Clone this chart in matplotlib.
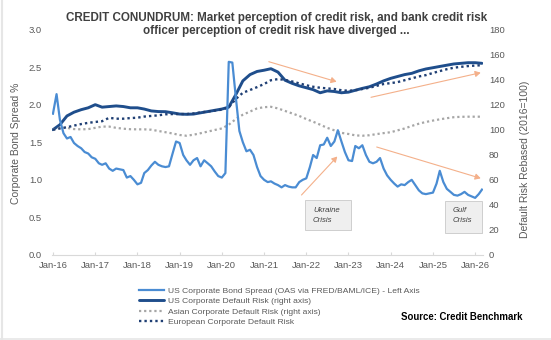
import matplotlib
matplotlib.use("Agg")
import matplotlib.pyplot as plt
from matplotlib.patches import Rectangle, FancyArrowPatch
from matplotlib.lines import Line2D
import pandas as pd

plt.rcParams['font.family'] = ['Liberation Sans', 'DejaVu Sans']

# ---------------- data ----------------
# US Corporate Bond Spread (OAS), monthly Jan-2016 .. Mar-2026, left axis (%)
spread = [
    1.88, 2.14, 1.80, 1.62, 1.55, 1.57, 1.49, 1.45, 1.42, 1.37, 1.35, 1.30,   # 2016
    1.28, 1.22, 1.20, 1.22, 1.15, 1.12, 1.15, 1.14, 1.13, 1.03, 1.05, 1.00,   # 2017
    0.94, 0.96, 1.09, 1.13, 1.19, 1.24, 1.20, 1.18, 1.17, 1.18, 1.35, 1.51,   # 2018
    1.49, 1.33, 1.26, 1.20, 1.26, 1.29, 1.18, 1.26, 1.22, 1.18, 1.11, 1.05,   # 2019
    1.03, 1.09, 2.57, 2.56, 2.10, 1.65, 1.50, 1.38, 1.40, 1.33, 1.17, 1.05,   # 2020
    1.00, 0.97, 0.98, 0.95, 0.93, 0.90, 0.93, 0.91, 0.90, 0.90, 0.97, 1.00,   # 2021
    1.02, 1.17, 1.33, 1.29, 1.46, 1.47, 1.56, 1.45, 1.51, 1.66, 1.51, 1.37,   # 2022
    1.26, 1.25, 1.45, 1.42, 1.46, 1.33, 1.24, 1.22, 1.24, 1.29, 1.15, 1.06,   # 2023
    1.00, 0.95, 0.91, 0.94, 0.93, 0.97, 1.00, 0.93, 0.86, 0.82, 0.81, 0.82,   # 2024
    0.83, 0.95, 1.12, 0.97, 0.88, 0.84, 0.80, 0.79, 0.81, 0.84, 0.80, 0.78,   # 2025
    0.76, 0.81, 0.87,                                                         # 2026
]
spread_dates = pd.date_range("2016-01-01", periods=len(spread), freq="MS")

# Default risk series (rebased 2016=100), bi-monthly Jan-2016 .. Jan-2026, plus Mar-2026
risk_dates = list(pd.date_range("2016-01-01", "2026-01-01", freq="2MS")) + [pd.Timestamp("2026-03-01")]
us_risk = [
    100.0, 104.0, 111.0, 114.0, 116.0, 117.5,
    120.0, 118.0, 118.5, 119.0, 118.5, 117.5,
    117.5, 116.5, 115.0, 114.5, 114.4, 113.5,
    112.5, 112.3, 112.5, 113.5, 114.5, 115.5,
    116.5, 118.0, 128.0, 139.0, 144.0, 146.5,
    147.5, 148.7, 146.0, 139.5, 137.0, 135.0,
    133.5, 132.0, 129.5, 131.0, 130.5, 129.5,
    130.0, 131.5, 133.0, 134.3, 136.5, 139.0,
    141.0, 142.5, 144.0, 145.0, 147.0, 148.5,
    149.5, 150.5, 151.5, 152.5, 153.0, 153.5,
    153.5, 153.0,
]
asia_risk = [
    100.0, 101.5, 101.5, 100.5, 100.3, 100.5,
    101.5, 102.5, 102.5, 101.5, 100.8, 100.4,
    100.3, 100.3, 100.0, 99.0, 98.0, 97.0,
    95.8, 95.2, 96.0, 97.2, 98.5, 99.8,
    101.0, 104.0, 108.5, 112.0, 114.5, 117.0,
    118.0, 118.3, 117.0, 115.0, 113.0, 111.0,
    108.5, 106.4, 104.0, 101.5, 99.5, 97.5,
    96.6, 95.5, 95.2, 95.6, 96.5, 97.3,
    98.0, 99.5, 101.0, 103.0, 104.8, 106.2,
    107.3, 108.3, 109.2, 110.0, 110.3, 110.4,
    110.4, 110.4,
]
euro_risk = [
    100.0, 101.0, 102.0, 103.3, 104.5, 105.5,
    106.2, 106.8, 109.5, 108.8, 108.8, 109.3,
    109.6, 110.5, 111.0, 111.5, 112.3, 112.5,
    112.5, 112.5, 113.0, 113.8, 114.5, 115.3,
    116.0, 118.0, 124.5, 129.5, 131.7, 134.0,
    136.5, 139.5, 140.4, 139.8, 138.5, 137.0,
    135.5, 134.3, 133.5, 133.0, 132.5, 131.5,
    131.1, 131.5, 132.5, 133.5, 135.0, 136.5,
    137.2, 138.0, 139.5, 141.0, 142.5, 143.6,
    145.3, 146.8, 148.3, 149.5, 150.2, 150.8,
    151.2, 151.5,
]

xtick_dates = pd.date_range("2016-01-01", "2026-01-01", freq="YS")
xtick_labels = [d.strftime("Jan-%y") for d in xtick_dates]
left_ticks = [0.0, 0.5, 1.0, 1.5, 2.0, 2.5, 3.0]
right_ticks = [0, 20, 40, 60, 80, 100, 120, 140, 160, 180]

labels = [
    "US Corporate Bond Spread (OAS via FRED/BAML/ICE) - Left Axis",
    "US Corporate Default Risk (right axis)",
    "Asian Corporate Default Risk (right axis)",
    "European Corporate Default Risk",
]

# ---------------- styling ----------------
W, H = 551, 340
C_SPREAD = "#4A8CD3"
C_US = "#1F4E8C"
C_EU = "#1F3F74"
C_ASIA = "#A6A6A6"
C_ARROW = "#F4B08A"
C_TEXT = "#595959"

def fx(px):
    return px / W

def fy(py):
    return 1 - py / H

fig = plt.figure(figsize=(W / 100, H / 100), dpi=100)
fig.patch.set_facecolor("white")

ax = fig.add_axes([fx(51.7), fy(255), fx(483) - fx(51.7), fy(29.5) - fy(255)])
ax2 = ax.twinx()

# right-axis series
l_us, = ax2.plot(risk_dates, us_risk, color=C_US, lw=2.1, solid_capstyle="round")
l_asia, = ax2.plot(risk_dates, asia_risk, color=C_ASIA, lw=1.6, linestyle=(0, (1, 1.3)))
l_eu, = ax2.plot(risk_dates, euro_risk, color=C_EU, lw=1.7, linestyle=(0, (1, 1.3)))
# left-axis series
l_sp, = ax.plot(spread_dates, spread, color=C_SPREAD, lw=1.6)

ax.set_zorder(ax2.get_zorder() + 1)
ax.patch.set_visible(False)

ax.set_ylim(0, 3.0)
ax2.set_ylim(0, 180)
ax.set_xlim(pd.Timestamp("2015-12-21"), pd.Timestamp("2026-03-10"))

ax.set_yticks(left_ticks)
ax.set_yticklabels([f"{v:.1f}" for v in left_ticks])
ax2.set_yticks(right_ticks)
ax2.set_yticklabels([str(v) for v in right_ticks])
ax.set_xticks(xtick_dates)
ax.set_xticklabels(xtick_labels)

for a in (ax, ax2):
    for s in a.spines.values():
        s.set_visible(False)
ax.spines["bottom"].set_visible(True)
ax.spines["bottom"].set_color("#D9D9D9")
ax.spines["bottom"].set_linewidth(0.8)

ax.tick_params(axis="y", length=0, pad=7, labelsize=6.8, labelcolor=C_TEXT)
ax2.tick_params(axis="y", length=0, pad=4.3, labelsize=6.8, labelcolor=C_TEXT)
ax.tick_params(axis="x", direction="in", length=2.5, color="#D9D9D9", pad=4,
               labelsize=6.8, labelcolor=C_TEXT)

# axis titles
fig.text(fx(15.8), fy(143), "Corporate Bond Spread %", rotation=90, ha="center", va="center",
         fontsize=7.5, color=C_TEXT)
fig.text(fx(525), fy(159), "Default Risk Rebased (2016=100)", rotation=90, ha="center",
         va="center", fontsize=7.5, color=C_TEXT)

# title
fig.text(fx(276.7), fy(24.5),
         "CREDIT CONUNDRUM: Market perception of credit risk, and bank credit risk\n"
         "officer perception of credit risk have diverged ...",
         ha="center", va="center", multialignment="center", fontsize=8.4,
         fontweight="bold", color="#404040", linespacing=1.2)

# arrows
arrows = [((268.8, 61.7), (336.6, 81.7)),
          ((371.0, 97.3), (480.7, 72.7)),
          ((376.7, 147.0), (480.7, 178.3)),
          ((301.5, 195.0), (337.3, 156.5))]
for (x0, y0), (x1, y1) in arrows:
    fig.add_artist(FancyArrowPatch(
        (fx(x0), fy(y0)), (fx(x1), fy(y1)), transform=fig.transFigure,
        arrowstyle="-|>,head_length=3.2,head_width=1.8", color=C_ARROW, lw=0.8,
        shrinkA=0, shrinkB=0, zorder=5))

# annotation boxes
for (x0, y0, x1, y1), lines, tx in [((305.3, 200.0, 350.7, 230.0), ("Ukraine", "Crisis"), 313.0),
                                    ((445.5, 200.5, 482.0, 232.5), ("Gulf", "Crisis"), 452.5)]:
    shadow = Rectangle((fx(x0) + 1 / W, fy(y1) - 1 / H), fx(x1) - fx(x0), fy(y0) - fy(y1),
                       transform=fig.transFigure, facecolor="#DCDCDC", edgecolor="none", zorder=5)
    box = Rectangle((fx(x0), fy(y1)), fx(x1) - fx(x0), fy(y0) - fy(y1),
                    transform=fig.transFigure, facecolor="#EFEFEF", edgecolor="#CFCFCF",
                    lw=0.7, zorder=6)
    fig.add_artist(shadow)
    fig.add_artist(box)
    fig.text(fx(tx), fy(210), lines[0], ha="left", va="center", fontsize=5.6,
             style="italic", color="#404040", zorder=7)
    fig.text(fx(tx), fy(220.7), lines[1], ha="left", va="center", fontsize=5.6,
             style="italic", color="#404040", zorder=7)

# legend
fig.legend([l_sp, l_us, l_asia, l_eu], labels, loc="upper left",
           bbox_to_anchor=(fx(139), fy(287)), frameon=False, fontsize=6.1,
           handlelength=2.9, handletextpad=0.55, labelspacing=0.3,
           borderaxespad=0, borderpad=0, labelcolor=C_TEXT)

fig.text(fx(400.6), fy(317), "Source: Credit Benchmark", ha="left", va="center",
         fontsize=6.9, fontweight="bold", color="black")

# faint frame lines
fig.add_artist(Line2D([fx(2), fx(2)], [0, 1], transform=fig.transFigure, color="#E6E6E6", lw=1.5))
fig.add_artist(Line2D([0, 1], [fy(338.5), fy(338.5)], transform=fig.transFigure, color="#E6E6E6", lw=1.2))

fig.savefig("out.png", dpi=100)
